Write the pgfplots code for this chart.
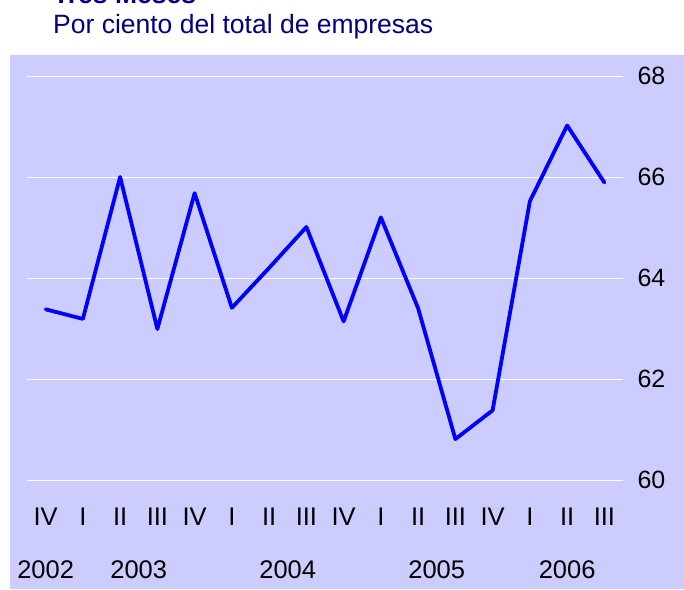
\documentclass[border=0pt]{standalone}
\usepackage{pgfplots}
\pgfplotsset{compat=1.18}
\usepackage{fontspec}
\setmainfont{Liberation Sans}
\definecolor{bgc}{RGB}{204,204,255}
\definecolor{navyt}{RGB}{0,0,128}
\definecolor{lineblue}{RGB}{0,0,255}
\begin{document}
\begin{tikzpicture}[x=1pt,y=1pt]
\useasboundingbox (0,0) rectangle (684,589);
\clip (0,0) rectangle (684,589);
\fill[bgc] (10,0) rectangle (684,534);
\node[anchor=base west, inner sep=0, text=navyt, font=\fontsize{26.5}{30}\selectfont\bfseries] at (53,585) {Tres Meses};
\node[anchor=base west, inner sep=0, text=navyt, font=\fontsize{26.5}{30}\selectfont] at (53,555) {Por ciento del total de empresas};
\begin{axis}[
  at={(27pt,109pt)}, anchor=south west,
  scale only axis, width=596pt, height=404pt,
  xmin=-0.5, xmax=15.5, ymin=60, ymax=68,
  axis line style={draw=none},
  tick style={draw=none},
  /pgf/number format/assume math mode=true,
  tick label style={text=black},
  ytick={60,62,64,66,68},
  yticklabel pos=right,
  yticklabel style={anchor=west, xshift=11pt, font=\fontsize{25}{29}\selectfont},
  ymajorgrids,
  grid style={white, line width=0.8pt},
  xtick={0,1,2,3,4,5,6,7,8,9,10,11,12,13,14,15},
  xticklabels={IV,I,II,III,IV,I,II,III,IV,I,II,III,IV,I,II,III},
  xticklabel style={anchor=base, yshift=-45pt, font=\fontsize{25.5}{29}\selectfont},
  extra x ticks={0,2.5,6.5,10.5,14},
  extra x tick labels={2002,2003,2004,2005,2006},
  extra x tick style={grid=none, tick label style={yshift=-53pt, font=\fontsize{24}{28}\selectfont}},
  clip=false,
]
\addplot[lineblue, line width=3.8pt, line join=round, line cap=round] coordinates {
(0,63.38) (1,63.19) (2,66.0) (3,62.99) (4,65.68) (5,63.41) (6,64.2) (7,65.01)
(8,63.14) (9,65.2) (10,63.4) (11,60.81) (12,61.38) (13,65.52) (14,67.02) (15,65.89)
};
\end{axis}
\end{tikzpicture}
\end{document}
